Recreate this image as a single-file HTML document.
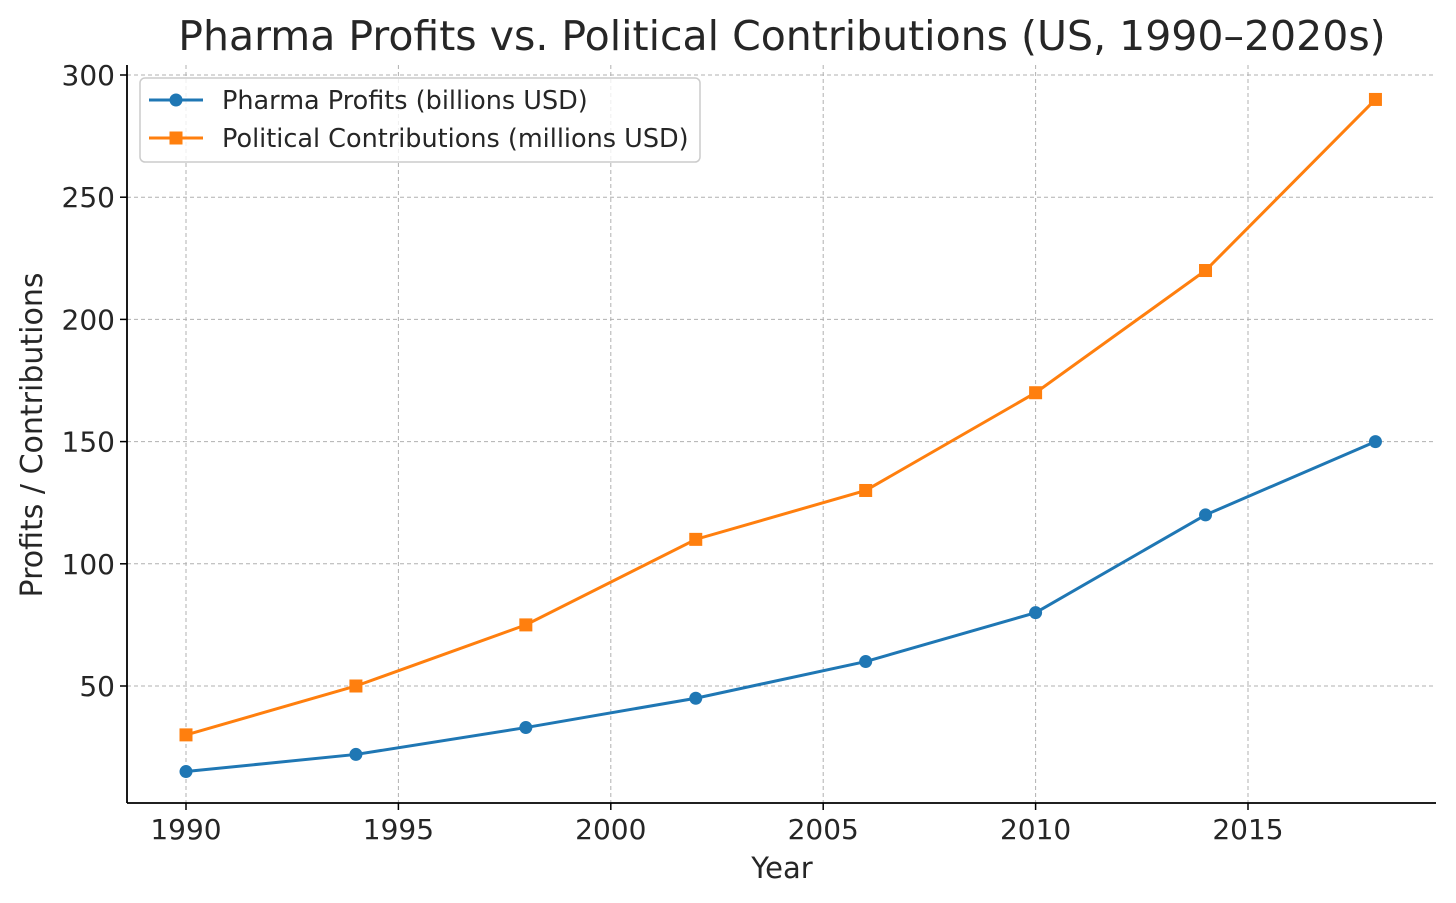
<!DOCTYPE html>
<html><head><meta charset="utf-8"><style>
html,body{margin:0;padding:0;background:#fff;}
svg{display:block;font-family:"DejaVu Sans","Liberation Sans",sans-serif;}
</style></head><body>
<svg id="chart" width="1456" height="903" viewBox="0 0 1456 903">
<text x="782" y="50" text-anchor="middle" font-size="41" fill="#262626">Pharma Profits vs. Political Contributions (US, 1990–2020s)</text>
<g id="grid"></g>
<g id="axes"></g>
<g id="series"></g>
<text x="782" y="878" text-anchor="middle" font-size="29" fill="#262626">Year</text>
<text transform="translate(42,435) rotate(-90)" text-anchor="middle" font-size="30" fill="#262626">Profits / Contributions</text>
<g>
<rect x="140" y="78" width="560" height="84" rx="5" fill="#fff" fill-opacity="0.8" stroke="#ccc" stroke-width="1.5"/>
<g>
<line x1="149" y1="100" x2="203" y2="100" stroke="#1f77b4" stroke-width="3"/>
<circle cx="176" cy="100" r="6.5" fill="#1f77b4"/>
<text x="222" y="109" font-size="25.5" fill="#262626">Pharma Profits (billions USD)</text>
</g>
<g>
<line x1="149" y1="138" x2="203" y2="138" stroke="#ff7f0e" stroke-width="3"/>
<rect x="169.5" y="131.5" width="13" height="13" fill="#ff7f0e"/>
<text x="222" y="147" font-size="25.5" fill="#262626">Political Contributions (millions USD)</text>
</g>
</g>
</svg>
<script>
const years = [1990,1994,1998,2002,2006,2010,2014,2018];
const profits = [15,22,33,45,60,80,120,150];
const contributions = [30,50,75,110,130,170,220,290];
const xTicks = [1990,1995,2000,2005,2010,2015];
const yTicks = [50,100,150,200,250,300];

const NS="http://www.w3.org/2000/svg";
const L=127,R=1436,T=65,B=803;
const xS=v=>186+(v-1990)*42.48;
const yS=v=>686-(v-50)*2.444;
function mk(tag,attrs,parent){const e=document.createElementNS(NS,tag);for(const k in attrs)e.setAttribute(k,attrs[k]);parent.appendChild(e);return e;}
const grid=document.getElementById('grid'),axes=document.getElementById('axes'),series=document.getElementById('series');
xTicks.forEach(t=>{
  const x=xS(t);
  const g=mk('line',{x1:x,x2:x,y1:T,y2:B,stroke:'#b0b0b0','stroke-width':1,'stroke-dasharray':'4,3'},grid);
  
  
  mk('line',{x1:x,x2:x,y1:B,y2:B+7,stroke:'#000','stroke-width':1.5},axes);
  const tx=mk('text',{x:x,y:B+36,'text-anchor':'middle','font-size':28,fill:'#262626'},axes);
  tx.textContent=t;
  
  
});
yTicks.forEach(t=>{
  const y=yS(t);
  const g=mk('line',{x1:L,x2:R,y1:y,y2:y,stroke:'#b0b0b0','stroke-width':1,'stroke-dasharray':'4,3'},grid);
  
  
  mk('line',{x1:L-7,x2:L,y1:y,y2:y,stroke:'#000','stroke-width':1.5},axes);
  const tx=mk('text',{x:L-12,y:y+10,'text-anchor':'end','font-size':28,fill:'#262626'},axes);
  tx.textContent=t;
  
  
});
mk('line',{x1:L,x2:L,y1:T,y2:B,stroke:'#000','stroke-width':1.8},axes);
mk('line',{x1:L,x2:R,y1:B,y2:B,stroke:'#000','stroke-width':1.8},axes);
function draw(vals,color,shape,name){
  const pts=years.map((yr,i)=>xS(yr)+','+yS(vals[i])).join(' ');
  const pl=mk('polyline',{points:pts,fill:'none',stroke:color,'stroke-width':3},series);
  
  
  years.forEach((yr,i)=>{
    const x=xS(yr),y=yS(vals[i]);
    let m;
    if(shape==='c') m=mk('circle',{cx:x,cy:y,r:6.5,fill:color},series);
    else m=mk('rect',{x:x-6.5,y:y-6.5,width:13,height:13,fill:color},series);
    
    
  });
}
draw(profits,'#1f77b4','c','profits');
draw(contributions,'#ff7f0e','s','contributions');
</script>
</body></html>
